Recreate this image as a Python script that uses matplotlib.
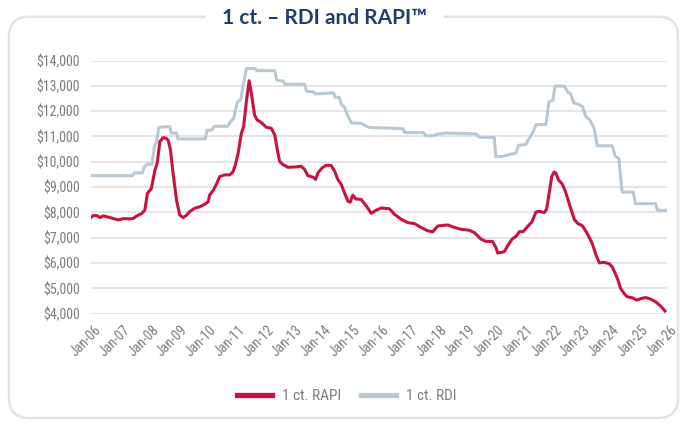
import matplotlib
matplotlib.use('Agg')
import matplotlib.pyplot as plt
from matplotlib import font_manager
from matplotlib.patches import FancyBboxPatch
from matplotlib.lines import Line2D
import matplotlib.transforms as mtransforms

# ---------------- data ----------------
rapi_years = [2006.00, 2006.08, 2006.20, 2006.31, 2006.43, 2006.66, 2006.95, 2007.12, 2007.35, 2007.47,
              2007.58, 2007.76, 2007.87, 2007.96, 2008.10, 2008.22, 2008.30, 2008.39, 2008.50, 2008.60,
              2008.68, 2008.76, 2008.85, 2008.97, 2009.08, 2009.20, 2009.32, 2009.43, 2009.60, 2009.78,
              2009.95, 2010.07, 2010.12, 2010.24, 2010.36, 2010.47, 2010.64, 2010.82, 2010.93, 2011.00,
              2011.11, 2011.22, 2011.30, 2011.40, 2011.49, 2011.57, 2011.68, 2011.77, 2011.92, 2012.09,
              2012.26, 2012.38, 2012.47, 2012.55, 2012.67, 2012.84, 2013.07, 2013.30, 2013.42, 2013.53,
              2013.71, 2013.80, 2013.88, 2014.03, 2014.17, 2014.34, 2014.46, 2014.57, 2014.69, 2014.80,
              2014.92, 2015.00, 2015.09, 2015.19, 2015.38, 2015.56, 2015.73, 2015.90, 2016.08, 2016.36,
              2016.54, 2016.77, 2017.00, 2017.23, 2017.46, 2017.69, 2017.87, 2018.04, 2018.39, 2018.62,
              2018.85, 2019.14, 2019.31, 2019.54, 2019.71, 2019.94, 2020.06, 2020.12, 2020.35, 2020.47,
              2020.62, 2020.76, 2020.87, 2021.01, 2021.16, 2021.31, 2021.45, 2021.56, 2021.74, 2021.82,
              2021.91, 2022.00, 2022.08, 2022.14, 2022.23, 2022.37, 2022.49, 2022.63, 2022.78, 2022.89,
              2023.07, 2023.24, 2023.41, 2023.53, 2023.65, 2023.82, 2023.99, 2024.10, 2024.28, 2024.39,
              2024.51, 2024.62, 2024.80, 2024.94, 2025.09, 2025.26, 2025.43, 2025.61, 2025.78, 2025.93]
rapi_values = [7800, 7870, 7870, 7790, 7860, 7790, 7700, 7750, 7740, 7760,
               7850, 7950, 8090, 8750, 8950, 9670, 9950, 10790, 10950, 10930,
               10850, 10460, 9540, 8480, 7890, 7790, 7890, 8030, 8160, 8220,
               8320, 8420, 8680, 8860, 9120, 9410, 9480, 9480, 9600, 9820,
               10340, 11120, 11390, 12430, 13200, 12690, 11840, 11650, 11540, 11360,
               11320, 11060, 10470, 10010, 9880, 9780, 9790, 9820, 9690, 9450,
               9390, 9300, 9560, 9760, 9860, 9850, 9620, 9300, 9100, 8770,
               8440, 8400, 8680, 8530, 8510, 8250, 7960, 8080, 8170, 8140,
               7920, 7725, 7590, 7555, 7400, 7270, 7230, 7460, 7500, 7400,
               7330, 7290, 7200, 6940, 6850, 6850, 6610, 6390, 6440, 6680,
               6940, 7050, 7230, 7240, 7440, 7620, 8010, 8040, 7990, 8120,
               8770, 9420, 9590, 9550, 9290, 9100, 8770, 8250, 7725, 7570,
               7460, 7140, 6750, 6330, 6000, 6020, 5970, 5840, 5380, 4990,
               4790, 4660, 4620, 4530, 4590, 4630, 4570, 4460, 4290, 4100]

rdi_years = [2006.00, 2007.45, 2007.50, 2007.78, 2007.85, 2007.95, 2008.12, 2008.20, 2008.28, 2008.35,
             2008.55, 2008.74, 2008.78, 2008.97, 2009.02, 2009.97, 2010.03, 2010.20, 2010.28, 2010.75,
             2010.85, 2010.95, 2011.08, 2011.20, 2011.28, 2011.40, 2011.70, 2011.76, 2012.38, 2012.45,
             2012.66, 2012.74, 2013.42, 2013.48, 2013.72, 2013.78, 2014.42, 2014.48, 2014.62, 2014.70,
             2014.80, 2014.90, 2015.05, 2015.38, 2015.52, 2015.65, 2016.83, 2016.90, 2017.55, 2017.62,
             2017.85, 2018.05, 2018.30, 2018.90, 2019.35, 2019.50, 2020.00, 2020.06, 2020.30, 2020.58,
             2020.76, 2020.84, 2021.10, 2021.22, 2021.33, 2021.45, 2021.80, 2021.90, 2022.04, 2022.11,
             2022.43, 2022.55, 2022.66, 2022.76, 2022.95, 2023.07, 2023.18, 2023.32, 2023.47, 2023.58,
             2024.10, 2024.20, 2024.33, 2024.44, 2024.83, 2024.90, 2025.60, 2025.67, 2025.97]
rdi_values = [9450, 9450, 9560, 9560, 9800, 9900, 9900, 10600, 10800, 11350,
              11380, 11380, 11130, 11130, 10900, 10900, 11250, 11250, 11400, 11400,
              11600, 11700, 12350, 12450, 13000, 13680, 13680, 13600, 13600, 13220,
              13190, 13060, 13060, 12790, 12760, 12680, 12720, 12550, 12540, 12250,
              12170, 11850, 11530, 11520, 11420, 11360, 11300, 11150, 11150, 11030,
              11020, 11090, 11130, 11120, 11100, 10960, 10960, 10190, 10210, 10300,
              10340, 10650, 10680, 10930, 11130, 11460, 11480, 12370, 12430, 12990,
              12990, 12760, 12670, 12330, 12260, 12170, 11780, 11650, 11320, 10630,
              10630, 10220, 10120, 8800, 8800, 8340, 8340, 8080, 8080]

tick_years = list(range(2006, 2027))
tick_labels = ["Jan-%02d" % (y % 100) for y in tick_years]
y_ticks = list(range(4000, 14001, 1000))
y_labels = ["${:,}".format(v) for v in y_ticks]

title = "1 ct. – RDI and RAPI™"
series_labels = ["1 ct. RAPI", "1 ct. RDI"]

# ---------------- style ----------------
RED = '#c8123f'
GREY = '#b9c9d3'
TXT = '#7d7d7d'
NAVY = '#1f3d6d'
GRID = '#dedede'

fonts = font_manager.fontManager.ttflist
available = {f.name for f in fonts}

def pick(cands):
    for c in cands:
        if c in available:
            return c
    return 'DejaVu Sans'

def pick_bold(cands):
    for c in cands:
        for f in fonts:
            if f.name == c and f.weight in (600, 700, 'bold', 'semibold', 'demibold'):
                return c
    return 'DejaVu Sans'

cond_font = pick(['Roboto Condensed', 'Liberation Sans Narrow', 'Open Sans Condensed', 'DejaVu Sans'])
title_font = pick_bold(['Lato', 'Open Sans', 'Roboto', 'Noto Sans', 'Liberation Sans'])

W, H = 680, 425
fig = plt.figure(figsize=(6.8, 4.25), dpi=100)

def fx(px):
    return px / W

def fy(py):
    return 1 - py / H

# frame (rounded rectangle in inches)
frame = FancyBboxPatch((9 / 100, (H - 418) / 100), (678 - 9) / 100, (418 - 16.7) / 100,
                       boxstyle="round,pad=0,rounding_size=0.2",
                       transform=fig.dpi_scale_trans, facecolor='white',
                       edgecolor='#e3e3e3', linewidth=1.8, zorder=0)
fig.add_artist(frame)

fig.text(fx(325), fy(18), title, ha='center', va='center', fontsize=15,
         fontfamily=[title_font, 'DejaVu Sans'], fontweight='bold', color=NAVY, zorder=5,
         bbox=dict(facecolor='white', edgecolor='none', pad=12))

ax = fig.add_axes([fx(91), fy(313.5), fx(667) - fx(91), fy(60.5) - fy(313.5)])
ax.set_facecolor('none')
ax.plot(rdi_years, rdi_values, color=GREY, lw=2.2, solid_joinstyle='round', zorder=3)
ax.plot(rapi_years, rapi_values, color=RED, lw=2.2, solid_joinstyle='round', zorder=4)

ax.set_xlim(2006, 2026)
ax.set_ylim(4000, 14000)
ax.set_yticks(y_ticks)
ax.set_yticklabels(y_labels, fontfamily=cond_font, fontsize=10, color=TXT)
ax.set_xticks(tick_years)
ax.set_xticklabels(tick_labels, fontfamily=cond_font, fontsize=10, color=TXT,
                   rotation=45, ha='right', va='top', rotation_mode='anchor')
ax.tick_params(axis='both', length=0)
ax.tick_params(axis='y', pad=8)
ax.tick_params(axis='x', pad=7)
ax.yaxis.grid(True, color=GRID, lw=1.1)
ax.set_axisbelow(True)
for s in ax.spines.values():
    s.set_visible(False)

offset = mtransforms.ScaledTranslation(3 / 100, 0, fig.dpi_scale_trans)
for lab in ax.get_xticklabels():
    lab.set_transform(lab.get_transform() + offset)

handles = [Line2D([], [], color=RED, lw=3.8), Line2D([], [], color=GREY, lw=3.8)]
fig.legend(handles, series_labels, loc='center', bbox_to_anchor=(fx(347), fy(396)),
           ncol=2, frameon=False, handlelength=2.3, handletextpad=0.65, columnspacing=1.3,
           prop={'family': cond_font, 'size': 11}, labelcolor=TXT)

fig.savefig('out.png', dpi=100, facecolor='white')
